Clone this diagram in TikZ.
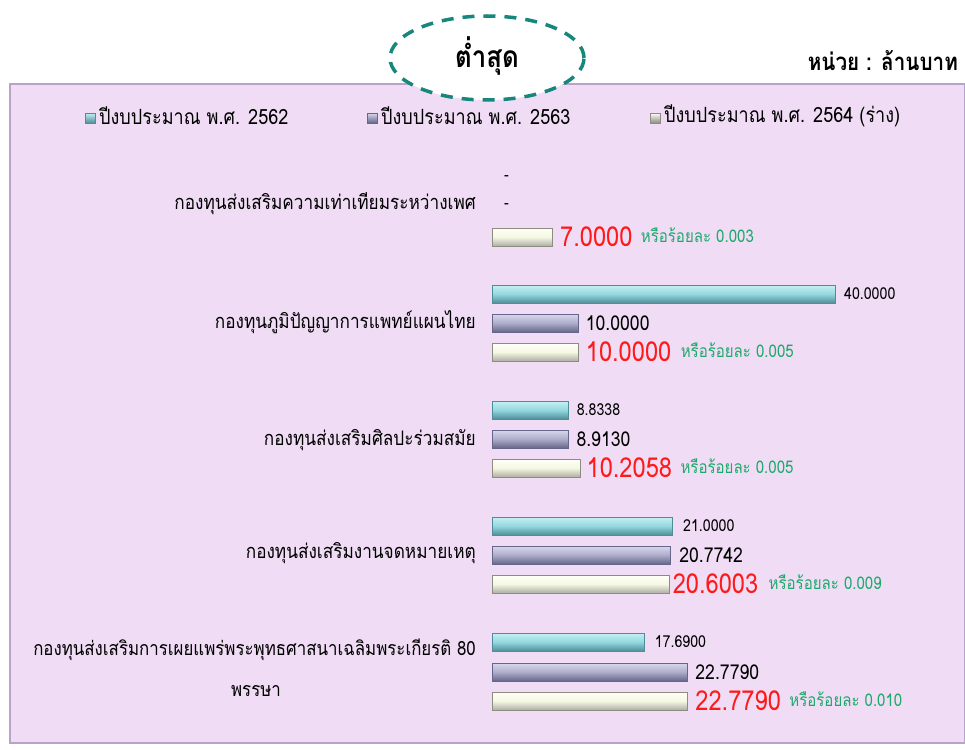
\documentclass[tikz,border=0pt]{standalone}
\usepackage{fontspec}
\setmainfont[Script=Thai,FakeStretch=0.86]{Loma}
\usetikzlibrary{shapes.geometric}
\definecolor{panelbg}{HTML}{F0DDF5}
\definecolor{paneledge}{HTML}{B8A4C8}
\definecolor{teal}{HTML}{17877E}
\definecolor{cyanA}{HTML}{C4F0F3}
\definecolor{cyanB}{HTML}{94D8DF}
\definecolor{cyanC}{HTML}{4F8E98}
\definecolor{purA}{HTML}{D8D8EE}
\definecolor{purB}{HTML}{ADADCA}
\definecolor{purC}{HTML}{66668A}
\definecolor{creA}{HTML}{FFFFF8}
\definecolor{creB}{HTML}{F4F8E2}
\definecolor{creC}{HTML}{8C8C80}
\definecolor{redv}{HTML}{FF1A1A}
\definecolor{greenv}{HTML}{1BAA6A}
\tikzset{
  barbase/.style={rectangle, minimum height=18, inner sep=0, anchor=west, line width=0.9},
  cyanbar/.style={barbase, draw=cyanC, top color=cyanA, bottom color=cyanC, middle color=cyanB},
  purbar/.style={barbase, draw=purC, top color=purA, bottom color=purC, middle color=purB},
  crebar/.style={barbase, draw=creC, top color=creA, bottom color=creC!70, middle color=creB},
  legmark/.style={rectangle, minimum size=10, inner sep=0},
  legtxt/.style={anchor=west, font=\fontsize{21}{23}\selectfont, inner sep=0},
  cattxt/.style={anchor=east, font=\fontsize{20}{22}\selectfont, inner sep=0},
  smallval/.style={anchor=west, font=\fontsize{16.5}{18}\selectfont, inner sep=0},
  midval/.style={anchor=west, font=\fontsize{20.5}{22}\selectfont, inner sep=0},
  redval/.style={anchor=west, font=\fontsize{27.5}{29}\selectfont, text=redv, inner sep=0},
  greenval/.style={anchor=west, font=\fontsize{17.5}{19}\selectfont, text=greenv, inner sep=0},
}
\newcommand\mybar[4]{\node[#2, minimum width={#4*8.575}] (#1) at (492,#3) {};}
\begin{document}
\begin{tikzpicture}[x=1pt,y=-1pt]
\useasboundingbox (0,0) rectangle (965,749);
% panel
\node[rectangle, draw=paneledge, line width=2, fill=panelbg, minimum width=955, minimum height=659, anchor=north west, inner sep=0] (panel) at (9,83) {};
% ellipse
\node[ellipse, draw=teal, fill=white, line width=3.5, dash pattern=on 12 off 9, minimum width=194, minimum height=84] (ell) at (487,58) {};
\node[font=\bfseries\fontsize{30}{32}\selectfont] (lowest) at (487,56) {ต่ำสุด};
\node[anchor=east, font=\bfseries\fontsize{24}{26}\selectfont, inner sep=0] (unit) at (958,61) {หน่วย : ล้านบาท};
% legend
\node[legmark, draw=cyanC, top color=cyanA, bottom color=cyanC] (m1) at (90,118) {};
\node[legtxt] (l1) at (99,116) {ปีงบประมาณ พ.ศ. 2562};
\node[legmark, draw=purC, top color=purA, bottom color=purC] (m2) at (372,118) {};
\node[legtxt] (l2) at (381,116) {ปีงบประมาณ พ.ศ. 2563};
\node[legmark, draw=creC, top color=creA, bottom color=creC] (m3) at (655,118) {};
\node[legtxt] (l3) at (664,116) {ปีงบประมาณ พ.ศ. 2564 (ร่าง)};
% category 1
\node[cattxt] (c1) at (476,204) {กองทุนส่งเสริมความเท่าเทียมระหว่างเพศ};
\node[smallval] (d1) at (504,178) {-};
\node[smallval] (d2) at (504,206) {-};
\mybar{b13}{crebar}{237}{7.0}
\node[redval] (v13) at ([xshift=7]b13.east) {7.0000};
\node[greenval] (g13) at ([xshift=8,yshift=2]v13.east) {หรือร้อยละ 0.003};
% category 2
\node[cattxt] (c2) at (476,322) {กองทุนภูมิปัญญาการแพทย์แผนไทย};
\mybar{b21}{cyanbar}{294}{40.0}
\node[smallval] (v21) at ([xshift=8]b21.east) {40.0000};
\mybar{b22}{purbar}{323}{10.0}
\node[midval] (v22) at ([xshift=7]b22.east) {10.0000};
\mybar{b23}{crebar}{352}{10.0}
\node[redval] (v23) at ([xshift=7]b23.east) {10.0000};
\node[greenval] (g23) at ([xshift=9,yshift=2]v23.east) {หรือร้อยละ 0.005};
% category 3
\node[cattxt] (c3) at (476,440) {กองทุนส่งเสริมศิลปะร่วมสมัย};
\mybar{b31}{cyanbar}{410}{8.8338}
\node[smallval] (v31) at ([xshift=8]b31.east) {8.8338};
\mybar{b32}{purbar}{439}{8.9130}
\node[midval] (v32) at ([xshift=7]b32.east) {8.9130};
\mybar{b33}{crebar}{468}{10.2058}
\node[redval] (v33) at ([xshift=6]b33.east) {10.2058};
\node[greenval] (g33) at ([xshift=8,yshift=2]v33.east) {หรือร้อยละ 0.005};
% category 4
\node[cattxt] (c4) at (476,553) {กองทุนส่งเสริมงานจดหมายเหตุ};
\mybar{b41}{cyanbar}{526}{21.0}
\node[smallval] (v41) at ([xshift=10]b41.east) {21.0000};
\mybar{b42}{purbar}{555}{20.7742}
\node[midval] (v42) at ([xshift=8]b42.east) {20.7742};
\mybar{b43}{crebar}{584}{20.6003}
\node[redval] (v43) at ([xshift=3]b43.east) {20.6003};
\node[greenval] (g43) at ([xshift=10,yshift=2]v43.east) {หรือร้อยละ 0.009};
% category 5
\node[cattxt, font=\fontsize{19.6}{22}\selectfont] (c5) at (476,650) {กองทุนส่งเสริมการเผยแพร่พระพุทธศาสนาเฉลิมพระเกียรติ 80};
\node[anchor=center, font=\fontsize{19.6}{22}\selectfont, inner sep=0] (c5b) at (256,691) {พรรษา};
\mybar{b51}{cyanbar}{642}{17.69}
\node[smallval] (v51) at ([xshift=10]b51.east) {17.6900};
\mybar{b52}{purbar}{672}{22.779}
\node[midval] (v52) at ([xshift=7]b52.east) {22.7790};
\mybar{b53}{crebar}{701}{22.779}
\node[redval] (v53) at ([xshift=7]b53.east) {22.7790};
\node[greenval] (g53) at ([xshift=8,yshift=2]v53.east) {หรือร้อยละ 0.010};
\end{tikzpicture}
\end{document}
